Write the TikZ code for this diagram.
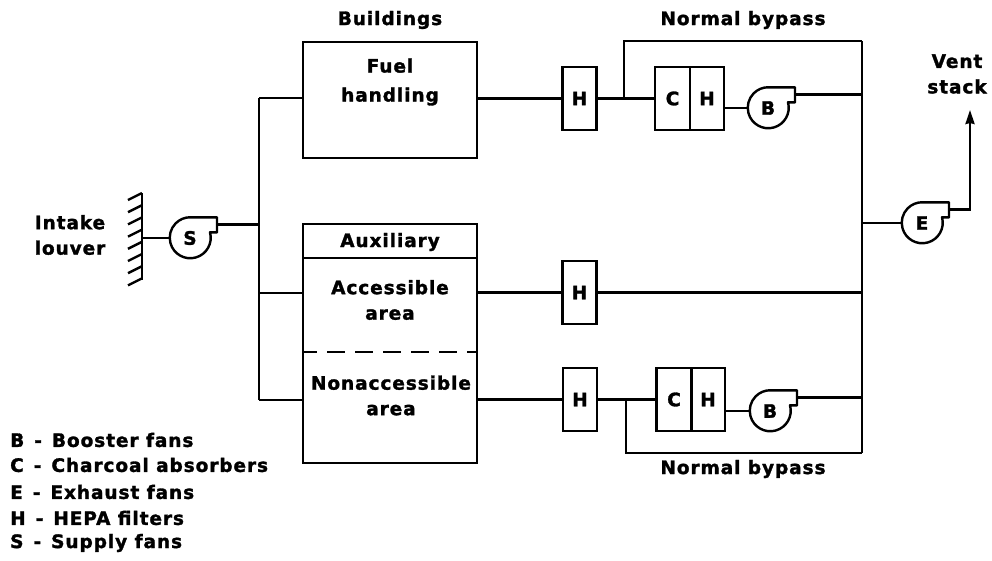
\documentclass[tikz,border=0pt]{standalone}
\usepackage{fontspec}
\setmainfont[LetterSpace=5,BoldFeatures={FakeBold=1.6}]{DejaVu Sans}
\usetikzlibrary{arrows.meta,calc}
\tikzset{
 line/.style={line width=2.4pt},
 filterbox/.style={draw,line width=2.4pt,minimum width=34pt,minimum height=63pt,inner sep=0},
 bldgbox/.style={draw,line width=2.4pt,minimum width=174pt,inner sep=0},
 fanbody/.style={circle,minimum size=41pt,inner sep=0},
 lbl/.style={font=\fontsize{18.5}{25.5}\selectfont\bfseries,align=center,inner sep=0},
}
\newcommand{\legdash}{\hspace{10pt}-\hspace{10pt}}
% fan: name, centre, letter
\newcommand{\fan}[3]{
 \node[fanbody,lbl,minimum size=41pt] (#1) at (#2) {#3};
 \draw[line,line join=round] (#1.north) --++(27,0)--++(0,15)--++(-7,0) arc[start angle=-15.4,end angle=270,radius=20.5];
 \coordinate (#1out) at ($(#1.north)+(27,7)$);
}
\begin{document}
\begin{tikzpicture}[x=1pt,y=-1pt]
\useasboundingbox (0,0) rectangle (992,560);
% louver
\coordinate (lvtop) at (142,193);
\coordinate (lvbot) at (142,280);
\draw[line] (lvtop)--(lvbot);
\foreach \y in {0,...,7} {
 \draw[line] (142,193+\y*12.2)--++(-14,7);
 }
\coordinate (lvin) at (142,238);
\fan{S}{190,238}{S}
\draw[line] (lvin)--(S.west);
% buildings
\node[bldgbox,minimum height=116pt] (fuel) at (390,100) {};
\node[bldgbox,minimum height=239pt] (aux) at (390,343.5) {};
\draw[line] (303,258)--(477,258);
\draw[line,dash pattern=on 18pt off 10pt,dash phase=4pt] (303,352)--(477,352);
% supply trunk
\coordinate (trtop) at (259,98);
\coordinate (trmid) at (259,293);
\coordinate (trbot) at (259,400);
\draw[line] (trtop)--(trbot);
\draw[line] (Sout)--(Sout-|trtop);
\draw[line] (trtop)--(trtop-|fuel.west);
\draw[line] (trmid)--(trmid-|aux.west);
\draw[line] (trbot)--(trbot-|aux.west);
% filters
\node[filterbox] (H1) at (579.5,98.5) {};
\node[filterbox] (H2) at (579.5,292.5) {};
\node[filterbox] (H3) at (580,399.5) {};
\node[filterbox,minimum width=35pt] (C1) at (672.5,98.5) {};
\node[filterbox,minimum width=34pt] (H4) at (707,98.5) {};
\node[filterbox,minimum width=35pt] (C2) at (674,399.5) {};
\node[filterbox,minimum width=34pt] (H5) at (708,399.5) {};
\fan{B1}{768,108}{B}
\fan{B2}{770,411}{B}
\fan{E}{922,223}{E}
% exhaust trunk
\coordinate (extop) at (862,41);
\coordinate (exbot) at (862,453);
\draw[line] (extop)--(exbot);
% top run
\draw[line] (fuel.east|-H1.west)--(H1.west);
\draw[line] (H1.east)--(C1.west);
\coordinate (by1) at (624,98.5);
\draw[line] (by1)--(by1|-extop)--(extop);
\draw[line] (H4.east|-B1.west)--(B1.west);
\draw[line] (B1out)--(B1out-|extop);
% middle run
\draw[line] (aux.east|-H2.west)--(H2.west);
\draw[line] (H2.east)--(H2.east-|extop);
% bottom run
\draw[line] (aux.east|-H3.west)--(H3.west);
\draw[line] (H3.east)--(C2.west);
\coordinate (by2) at (626,399.5);
\draw[line] (by2)--(by2|-exbot)--(exbot);
\draw[line] (H5.east|-B2.west)--(B2.west);
\draw[line] (B2out)--(B2out-|extop);
% exhaust and vent
\draw[line] (E.west-|extop)--(E.west);
\coordinate (vent) at (970,110);
\draw[line,-{Stealth[length=14pt,width=9pt,inset=1pt]}] (Eout)--(Eout-|vent)--(vent);
% labels
\node[lbl] (lbuild) at (390,20) {Buildings};
\node[lbl] (lby1) at (743,20) {Normal bypass};
\node[lbl] (lby2) at (743,469) {Normal bypass};
\node[lbl,font=\fontsize{18.5}{29}\selectfont\bfseries] (lfuel) at (390,82) {Fuel\\handling};
\node[lbl] (laux) at (390,242) {Auxiliary};
\node[lbl] (lacc) at (390,300) {Accessible\\area};
\node[lbl] (lnon) at (391,395.5) {Nonaccessible\\area};
\node[lbl] (lint) at (70,235) {Intake\\louver};
\node[lbl] (lvent) at (957,74) {Vent\\stack};
\node[lbl] (lh1) at (H1) {H};
\node[lbl] (lh2) at (H2) {H};
\node[lbl] (lh3) at (H3) {H};
\node[lbl] (lc1) at (C1) {C};
\node[lbl] (lh4) at (H4) {H};
\node[lbl] (lc2) at (C2) {C};
\node[lbl] (lh5) at (H5) {H};
\foreach \y/\t [count=\i] in {440/B\legdash Booster fans,465/C\legdash Charcoal absorbers,492/E\legdash Exhaust fans,518/H\legdash HEPA filters,543/S\legdash Supply fans} {
 \node[lbl,anchor=west] (leg\i) at (10,\y) {\t};
 }
\end{tikzpicture}
\end{document}
